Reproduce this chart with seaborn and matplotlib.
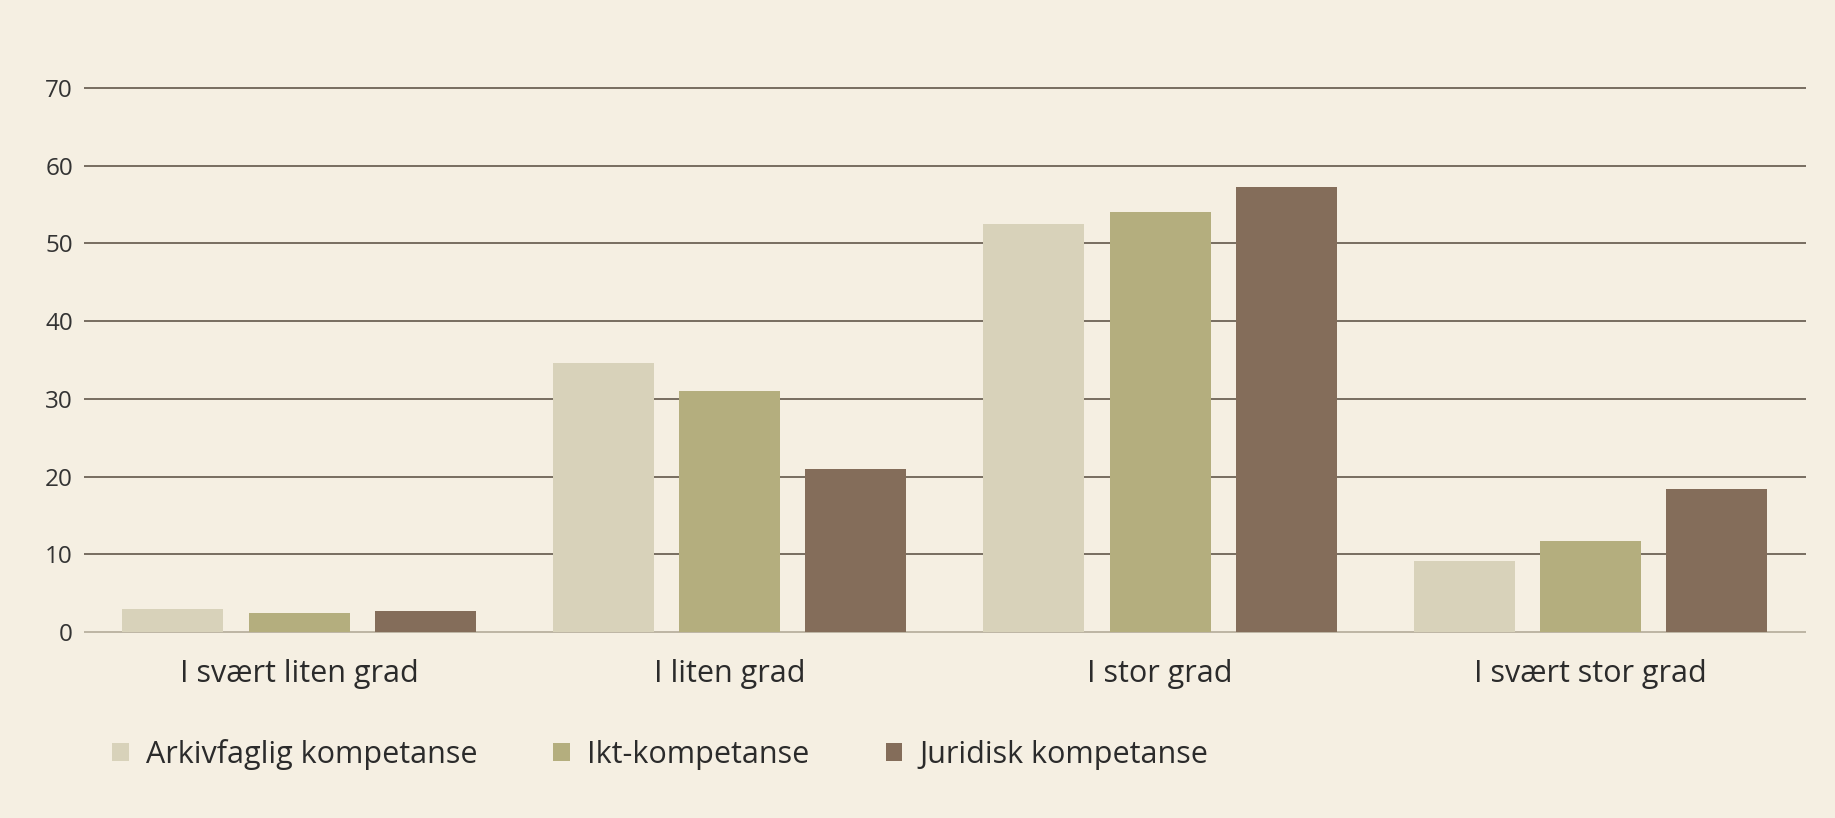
import matplotlib
matplotlib.use("Agg")
import numpy as np
import pandas as pd
import seaborn as sns
import matplotlib.pyplot as plt

# data
kategorier = ["I svært liten grad", "I liten grad", "I stor grad", "I svært stor grad"]
serier = ["Arkivfaglig kompetanse", "Ikt-kompetanse", "Juridisk kompetanse"]
arkivfaglig = [3.0, 34.6, 52.5, 9.1]
ikt = [2.4, 31.0, 54.0, 11.7]
juridisk = [2.7, 21.0, 57.2, 18.4]
y_ticks = [0, 10, 20, 30, 40, 50, 60, 70]

df = pd.DataFrame({
    "kategori": kategorier * 3,
    "serie": [serier[0]] * 4 + [serier[1]] * 4 + [serier[2]] * 4,
    "verdi": arkivfaglig + ikt + juridisk,
})

bg = "#F5EFE2"
farger = ["#D8D2BA", "#B4AE7E", "#846D5A"]

sns.set_theme(style="white")
plt.rcParams['font.family'] = ['Open Sans', 'DejaVu Sans']

fig = plt.figure(figsize=(18.35, 8.18), dpi=100, facecolor=bg)
ax = fig.add_axes([0.0458, 0.2255, 0.9382, 0.669])
ax.set_facecolor(bg)

sns.barplot(data=df, x="kategori", y="verdi", hue="serie", order=kategorier,
            hue_order=serier, palette=farger, width=0.88, gap=0.2,
            saturation=1, linewidth=0, ax=ax, errorbar=None)

ax.set_xlim(-0.5, 3.5)
ax.set_ylim(-0.2, 70.2)
ax.set_yticks(y_ticks)
ax.set_axisbelow(True)
for v in y_ticks:
    if v == 0:
        ax.axhline(v, color="#BDB5A4", lw=1.4, zorder=0)
    else:
        ax.axhline(v, color="#776D60", lw=1.4, zorder=0)

for s in ax.spines.values():
    s.set_visible(False)
ax.set_xlabel("")
ax.set_ylabel("")
ax.tick_params(axis="y", length=0, pad=8, labelsize=17.5, labelcolor="#333333")
ax.tick_params(axis="x", length=0, pad=18, labelsize=22, labelcolor="#2b2b2b")

sns.move_legend(ax, "center left", bbox_to_anchor=(0.046, 0.078),
                bbox_transform=fig.transFigure, ncol=3, frameon=False,
                title=None, fontsize=22, handlelength=0.55, handleheight=0.55,
                handletextpad=0.55, columnspacing=2.5)
for t in ax.get_legend().get_texts():
    t.set_color("#2b2b2b")

fig.savefig("out.png", dpi=100, facecolor=bg)
